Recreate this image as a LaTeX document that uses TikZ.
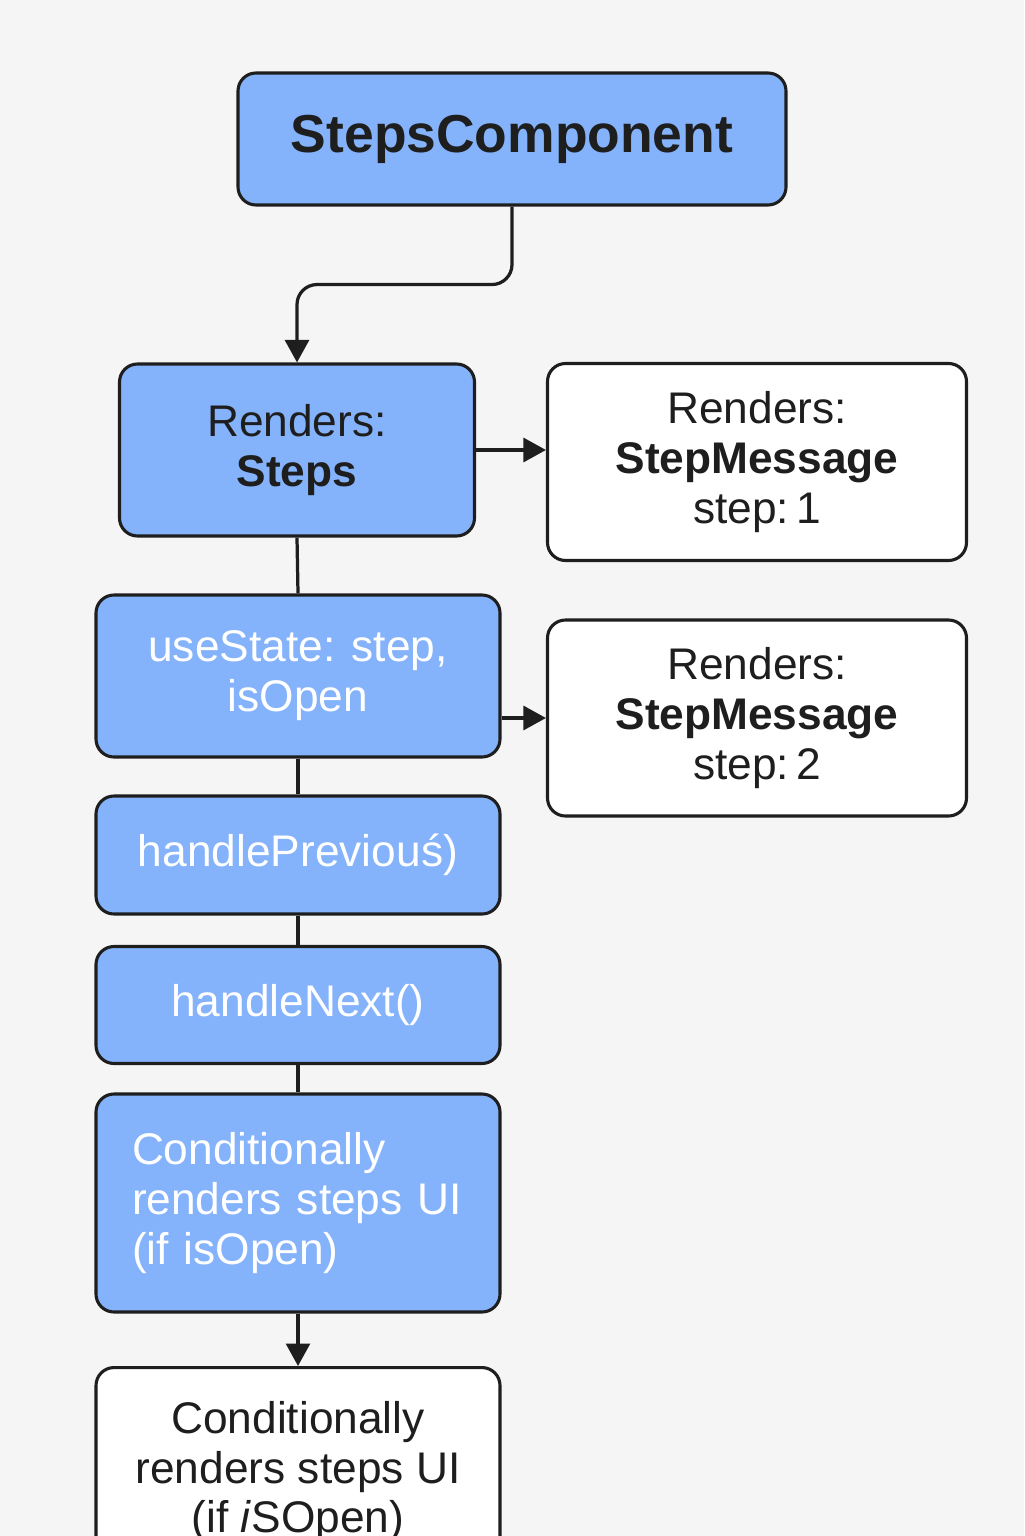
\documentclass[tikz,border=0pt]{standalone}
\usepackage{fontspec}
\setmainfont{Liberation Sans}
\usepackage{tikz}
\usetikzlibrary{arrows.meta,calc,positioning}
\definecolor{bgcol}{HTML}{F5F5F5}
\definecolor{blockblue}{HTML}{84B3FB}
\definecolor{inkcol}{HTML}{1E1E1E}
\tikzset{>={Triangle[length=16pt,width=17pt]}}
\tikzstyle{blockbox}=[
	 rectangle, draw=inkcol, line width=2.2pt,
	 rounded corners=0.45cm, fill=blockblue,
	 minimum width=10.1cm, align=center,
	 font=\fontsize{31.5}{35.5}\selectfont
    ]
\tikzstyle{plainbox}=[blockbox, fill=white, text=inkcol]
\tikzstyle{link}=[draw=inkcol, line width=2.3pt]
\newcommand{\pEW}[2]{\draw[link,->] (#1.east) -- (#1.east -| #2.west)}
\newcommand{\pWE}[2]{\draw[link,->] (#2.west -| #1.east) -- (#2.west)}
\newcommand{\pSN}[2]{\draw[link] (#1.south) -- (#2.north)}

\begin{document}
\begin{tikzpicture}

\fill[bgcol] (0,0) rectangle (25.6,-38.4);
\useasboundingbox (0,0) rectangle (25.6,-38.4);

\node[blockbox,text=inkcol,minimum width=13.7cm,minimum height=3.3cm,
  font=\fontsize{38}{44}\selectfont\bfseries] (SC) at (12.8,-3.475) {StepsComponent};

\node[blockbox,text=inkcol,minimum width=8.875cm,minimum height=4.3cm] (S) at (7.425,-11.25) {Renders:\\\textbf{Steps}};
\node[plainbox,minimum width=10.475cm,minimum height=4.925cm] (M1) at (18.925,-11.55) {Renders:\\\textbf{StepMessage}\\step:\,1};

\node[blockbox,text=white,minimum height=4.05cm] (US) at (7.45,-16.9) {useState: step,\\isOpen};
\node[plainbox,minimum width=10.475cm,minimum height=4.9cm] (M2) at (18.925,-17.95) {Renders:\\\textbf{StepMessage}\\step:\,2};

\node[blockbox,text=white,minimum height=2.95cm] (HP) at (7.45,-21.375) {handlePreviouś)};
\node[blockbox,text=white,minimum height=2.925cm] (HN) at (7.45,-25.125) {handleNext()};
\node[blockbox,text=white,minimum height=5.45cm,text width=8.3cm,align=left] (CR) at (7.45,-30.075) {Conditionally\\renders steps UI\\(if isOpen)};

\node[plainbox,minimum height=5.2cm,anchor=north] (CU) at (7.45,-34.15) {Conditionally\\renders steps UI\\(if \textit{i}SOpen)};

% top link with a jog
\draw[link,->,rounded corners=0.5cm] (SC.south) -- ++(0,-1.95) -| (S.north);

\pEW{S}{M1};
\pWE{US}{M2};

\pSN{S}{US};
\pSN{US}{HP};
\pSN{HP}{HN};
\pSN{HN}{CR};
\draw[link,->] (CR.south) -- (CU.north);

\end{tikzpicture}
\end{document}
